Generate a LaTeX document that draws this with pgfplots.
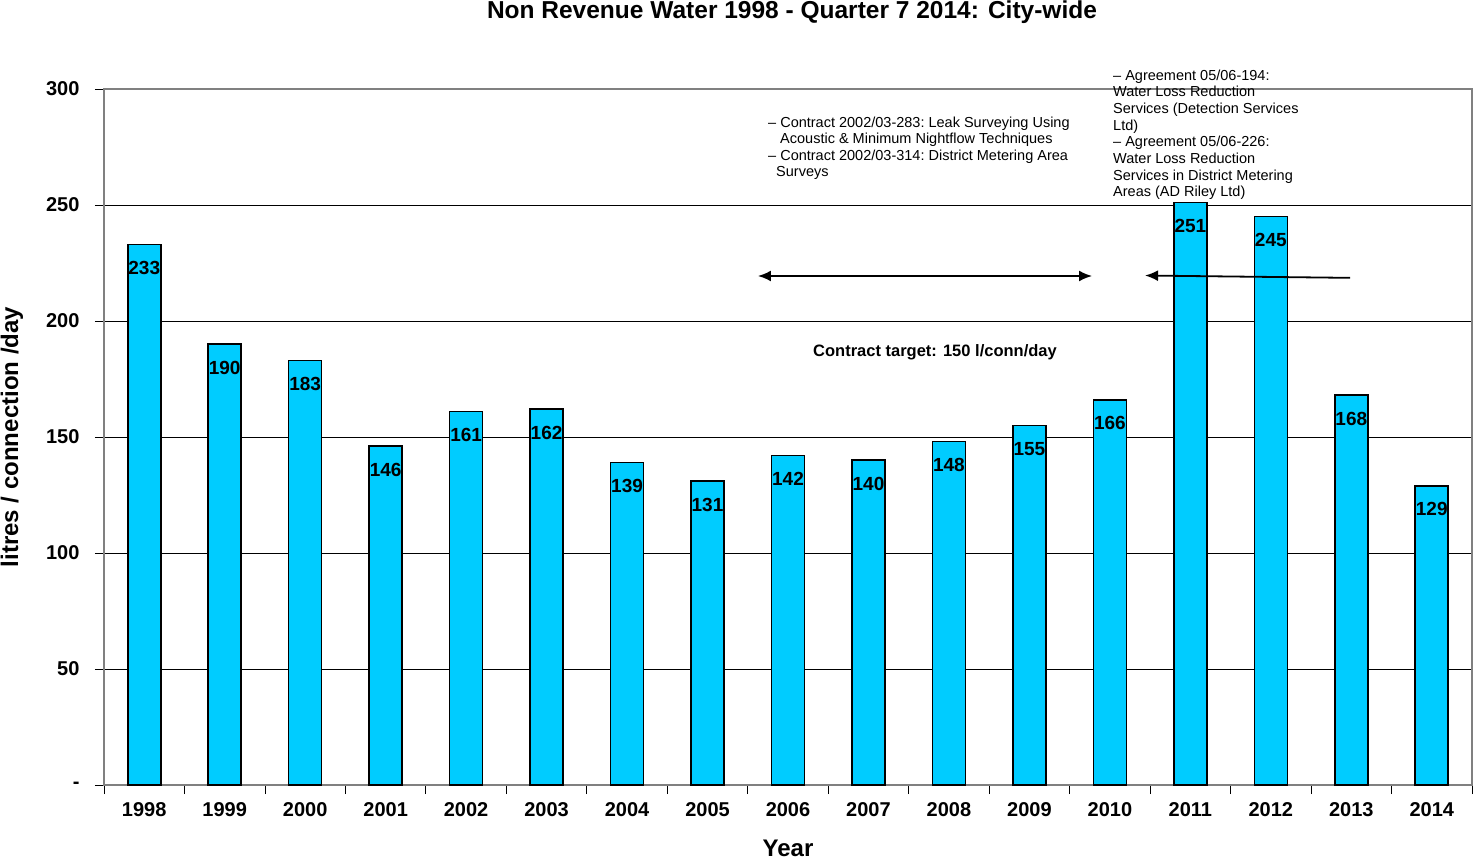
\documentclass[border=0pt]{standalone}
\usepackage{fontspec}
\setmainfont{Liberation Sans}
\usepackage{pgfplots}
\pgfplotsset{compat=1.18}
\usetikzlibrary{arrows.meta}
\definecolor{barblue}{RGB}{0,204,255}
\definecolor{framegray}{RGB}{128,128,128}
\newcommand{\fs}[1]{\fontsize{#1}{#1}\selectfont}
\begin{document}
\begin{tikzpicture}
\path[use as bounding box] (0,0) rectangle (1473pt,860pt);
\begin{axis}[
  at={(104pt,75pt)}, anchor=south west,
  scale only axis, width=1368pt, height=696pt,
  xmin=-0.5, xmax=16.5, ymin=0, ymax=300,
  /pgf/number format/assume math mode=true,
  axis line style={draw=framegray, line width=1.5pt},
  tick align=outside, major tick length=9pt,
  tick style={draw=black, line width=0.8pt},
  xtick pos=bottom, ytick pos=left,
  ytick={0,50,...,300},
  yticklabels={-,50,100,150,200,250,300},
  xtick={-0.5,0.5,...,16.5},
  xticklabels={},
  extra x ticks={0,1,...,16},
  extra x tick labels={1998,1999,2000,2001,2002,2003,2004,2005,2006,2007,2008,2009,2010,2011,2012,2013,2014},
  extra x tick style={major tick length=0pt, grid=none, tick style={draw=none}},
  ymajorgrids, grid style={black, line width=0.8pt},
  ticklabel style={font=\bfseries\fs{20}},
  xticklabel shift=14pt,
  yticklabel shift=12pt,
  xlabel={Year}, ylabel={litres / connection /day},
  every axis x label/.style={at={(axis description cs:0.5,0)}, anchor=center, yshift=-63pt, font=\bfseries\fs{24}},
  every axis y label/.style={at={(axis description cs:-0.0673,0.5)}, anchor=center, rotate=90, font=\bfseries\fs{24}},
  clip=false,
]
\addplot[ybar, bar width=33pt, fill=barblue, draw=black, line width=1.6pt,
  nodes near coords, nodes near coords align={below},
  every node near coord/.append style={font=\bfseries\fs{19}, inner sep=0pt, yshift=-16pt, text=black}]
coordinates {(0,233) (1,190) (2,183) (3,146) (4,161) (5,162) (6,139) (7,131) (8,142) (9,140) (10,148) (11,155) (12,166) (13,251) (14,245) (15,168) (16,129)};
\draw[{Latex[length=13pt,width=11pt]}-{Latex[length=13pt,width=11pt]}, line width=1.8pt] (axis cs:7.627,219.4) -- (axis cs:11.778,219.4);
\draw[-{Latex[length=13pt,width=11pt]}, line width=1.8pt] (axis cs:14.984,218.6) -- (axis cs:12.437,219.6);
\end{axis}
% title
\node[font=\bfseries\fs{24.5}] at (792pt,848pt) {Non Revenue Water 1998 - Quarter 7 2014: City-wide};
% contract target
\node[font=\bfseries\fs{16.5}] at (935pt,508pt) {Contract target: 150 l/conn/day};
% annotations
\begin{scope}[every node/.style={anchor=base west, inner sep=0pt, font=\fs{14.5}}]
\node at (768pt,{860pt-128pt}) {– Contract 2002/03-283:\ Leak Surveying Using};
\node at (780pt,{860pt-144pt}) {Acoustic \& Minimum Nightflow Techniques};
\node at (768pt,{860pt-161pt}) {– Contract 2002/03-314:\ District Metering\ Area};
\node at (776pt,{860pt-177pt}) {Surveys};
\node at (1113pt,{860pt-80.5pt}) {– Agreement 05/06-194:};
\node at (1113pt,{860pt-97pt}) {Water Loss Reduction};
\node at (1113pt,{860pt-114pt}) {Services (Detection Services};
\node at (1113pt,{860pt-130.5pt}) {Ltd)};
\node at (1113pt,{860pt-147pt}) {– Agreement 05/06-226:};
\node at (1113pt,{860pt-164pt}) {Water Loss Reduction};
\node at (1113pt,{860pt-180.5pt}) {Services in District Metering};
\node at (1113pt,{860pt-197pt}) {Areas (AD Riley Ltd)};
\end{scope}
\end{tikzpicture}
\end{document}
